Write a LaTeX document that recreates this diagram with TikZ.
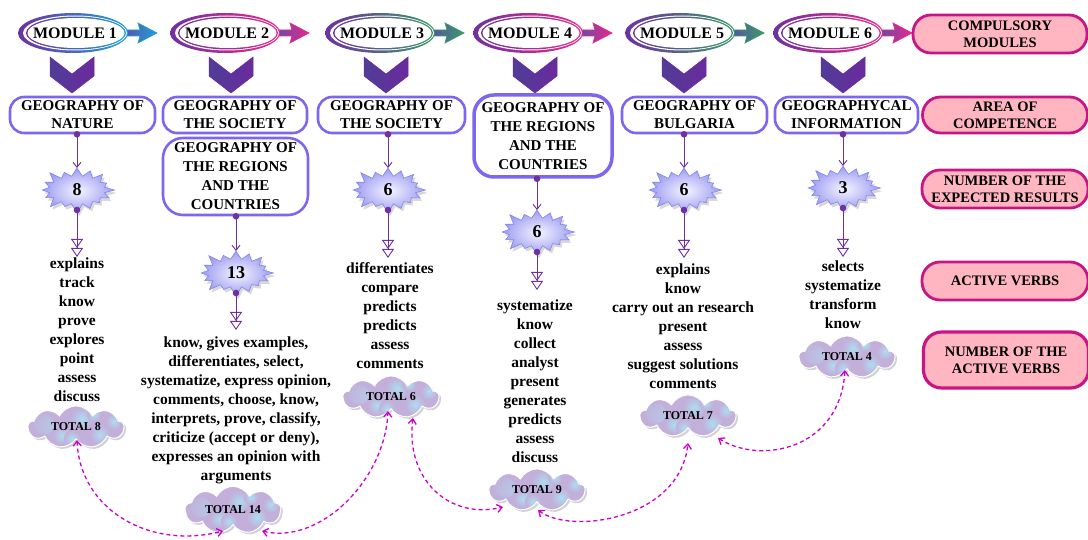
\documentclass[tikz,border=0pt]{standalone}
\usepackage{fontspec}
\setmainfont{Liberation Serif}
\usetikzlibrary{shapes.symbols,arrows.meta,shadows,calc}

\definecolor{modpurple}{HTML}{7030A0}
\definecolor{arrowbody}{HTML}{5B4FA8}
\definecolor{acblue}{HTML}{1FA0D8}
\definecolor{acpink}{HTML}{E8288C}
\definecolor{acgreen}{HTML}{3A9A6A}
\definecolor{areaedge}{HTML}{7B68EE}
\definecolor{legfill}{HTML}{FFB6C1}
\definecolor{legedge}{HTML}{C71585}
\definecolor{linkpurple}{HTML}{7030A0}
\definecolor{dashmag}{HTML}{CC00CC}
\definecolor{cloudlilac}{HTML}{C2B0DA}
\definecolor{cloudspot}{HTML}{AEDCF0}
\definecolor{starcore}{HTML}{F4F4FF}
\definecolor{starrim}{HTML}{9C9CF2}
\definecolor{staredge}{HTML}{8484EC}
\definecolor{chevL}{HTML}{4F3D96}
\definecolor{chevM}{HTML}{9088BE}
\definecolor{chevR}{HTML}{6B2A9E}

\tikzset{
  modtext/.style={font=\bfseries\fontsize{16}{16}\selectfont, inner sep=0pt},
  areabox/.style={draw=areaedge, line width=2.6pt, fill=white, rounded corners=14pt,
    align=center, inner sep=0pt, font=\bfseries\fontsize{15}{18}\selectfont},
  legbox/.style={draw=legedge, line width=2.8pt, fill=legfill, rounded corners=18pt,
    align=center, inner sep=0pt, font=\bfseries\fontsize{14.5}{17}\selectfont},
  burst/.style={starburst, starburst points=16, starburst point height=11pt,
    minimum width=78pt, minimum height=50pt, inner sep=0pt,
    draw=staredge, line width=0.6pt, inner color=starcore, outer color=starrim,
    drop shadow={opacity=0.3, shadow xshift=2pt, shadow yshift=-3pt},
    font=\bfseries\fontsize{18}{18}\selectfont},
  verbs/.style={align=center, inner sep=0pt, anchor=north,
    font=\bfseries\fontsize{15.5}{19}\selectfont},
  total/.style={cloud, cloud puffs=9, cloud puff arc=125, aspect=2.4,
    minimum width=96pt, minimum height=40pt, inner sep=0pt,
    fill=cloudlilac, draw=white, line width=1pt,
    drop shadow={opacity=0.35, shadow xshift=2pt, shadow yshift=-2pt},
    font=\bfseries\fontsize{12}{12}\selectfont,
    path picture={
      \foreach \dx/\dy/\r in {-32/2/10, -14/-9/9, 6/8/11, 24/-8/10, 38/5/8, -4/-12/8, 18/12/7}
        \shade[inner color=cloudspot, outer color=cloudlilac]
          ($(path picture bounding box.center)+(\dx pt,\dy pt)$) circle (\r pt);
    }},
  feed/.style={linkpurple, line width=0.9pt, -{Straight Barb[length=5pt,width=8pt]}},
  fanout/.style={linkpurple, line width=0.9pt,
    -{Triangle[open,length=9pt,width=12pt] Triangle[open,length=9pt,width=12pt]}},
  tally/.style={dashmag, line width=1.3pt, dash pattern=on 4pt off 3pt,
    {Straight Barb[length=5pt,width=8pt]}-{Straight Barb[length=5pt,width=8pt]}},
}

% ring with outgoing arrow, label and the chevron under it
\newcommand\moduleunit[5]{%
  \shadedraw[left color=arrowbody, right color=#3, draw=#3, line width=0.7pt]
    (#2+50,30) -- (#2+67,30) -- (#2+65,23) -- (#2+84,33) -- (#2+65,43) -- (#2+67,36) -- (#2+50,36) -- cycle;
  \shade[left color=modpurple, right color=#3] (#2,33) ellipse (55pt and 20pt);
  \fill[white] (#2+2,33) ellipse (52pt and 17.5pt);
  \shade[left color=modpurple, right color=#3] (#2+3,33) ellipse (50pt and 16.5pt);
  \fill[white] (#2+3,33) ellipse (48.5pt and 15pt);
  \node[modtext] (#1) at (#2+2,33) {#4};
  \shadedraw[left color=chevL, middle color=chevM, right color=chevR, draw=chevR, line width=0.5pt]
    (#5-22,57) -- (#5,74) -- (#5+22,57) -- (#5+22,76) -- (#5,93) -- (#5-22,76) -- cycle;
}

\begin{document}
\begin{tikzpicture}[x=1pt, y=-1pt]
\useasboundingbox (0,0) rectangle (1088,540);
\fill[white] (0,0) rectangle (1088,540);

% compulsory modules
\moduleunit{m1}{73}{acblue}{MODULE 1}{72}
\moduleunit{m2}{225}{acpink}{MODULE 2}{231}
\moduleunit{m3}{380}{acgreen}{MODULE 3}{386}
\moduleunit{m4}{528}{acpink}{MODULE 4}{535}
\moduleunit{m5}{680}{acgreen}{MODULE 5}{684}
\moduleunit{m6}{828}{acpink}{MODULE 6}{843}

% legend
\node[legbox, minimum width=174pt, minimum height=38pt] (l1) at (1000,34) {COMPULSORY\\MODULES};
\node[legbox, minimum width=165pt, minimum height=36pt] (l2) at (1005,115) {AREA OF\\COMPETENCE};
\node[legbox, minimum width=166pt, minimum height=38pt] (l3) at (1005,189) {NUMBER OF THE\\EXPECTED RESULTS};
\node[legbox, minimum width=166pt, minimum height=38pt] (l4) at (1005,281) {ACTIVE VERBS};
\node[legbox, line width=3.2pt, minimum width=165pt, minimum height=56pt] (l5) at (1006,360) {NUMBER OF THE\\ACTIVE VERBS};

% areas of competence
\node[areabox, minimum width=145pt, minimum height=36pt] (a1) at (82.5,115) {GEOGRAPHY OF\\NATURE};
\node[areabox, minimum width=144pt, minimum height=36pt] (a2) at (235,115) {GEOGRAPHY OF\\THE SOCIETY};
\node[areabox, rounded corners=20pt, minimum width=145pt, minimum height=77pt,
      font=\bfseries\fontsize{15}{19}\selectfont] (a2b) at (235.5,176.5) {GEOGRAPHY OF\\THE REGIONS\\AND THE\\COUNTRIES};
\node[areabox, minimum width=147pt, minimum height=36pt] (a3) at (391.5,115) {GEOGRAPHY OF\\THE SOCIETY};
\node[areabox, line width=3.5pt, rounded corners=20pt, minimum width=138pt, minimum height=82pt,
      font=\bfseries\fontsize{15}{19}\selectfont] (a4) at (543,136) {GEOGRAPHY OF\\THE REGIONS\\AND THE\\COUNTRIES};
\node[areabox, minimum width=145pt, minimum height=36pt] (a5) at (694.5,115) {GEOGRAPHY OF\\BULGARIA};
\node[areabox, minimum width=143pt, minimum height=36pt] (a6) at (846.5,115) {GEOGRAPHYCAL\\INFORMATION};

% expected results
\node[burst] (s1) at (77,190) {8};
\node[burst] (s2) at (236,273) {13};
\node[burst] (s3) at (388,190) {6};
\node[burst] (s4) at (537,232) {6};
\node[burst] (s5) at (684,190) {6};
\node[burst] (s6) at (843,188) {3};

% active verbs
\node[verbs] (v1) at (77,258) {explains\\track\\know\\prove\\explores\\point\\assess\\discuss};
\node[verbs] (v2) at (236,337) {know, gives examples,\\differentiates, select,\\systematize, express opinion,\\comments, choose, know,\\interprets, prove, classify,\\criticize (accept or deny),\\expresses an opinion with\\arguments};
\node[verbs] (v3) at (390,262) {differentiates\\compare\\predicts\\predicts\\assess\\comments};
\node[verbs] (v4) at (535,300) {systematize\\know\\collect\\analyst\\present\\generates\\predicts\\assess\\discuss};
\node[verbs] (v5) at (683,264) {explains\\know\\carry out an research\\present\\assess\\suggest solutions\\comments};
\node[verbs] (v6) at (843,261) {selects\\systematize\\transform\\know};

% number of active verbs
\node[total] (c1) at (76,427) {TOTAL 8};
\node[total] (c2) at (233,510) {TOTAL 14};
\node[total] (c3) at (391,397) {TOTAL 6};
\node[total] (c4) at (537,490) {TOTAL 9};
\node[total] (c5) at (688,416) {TOTAL 7};
\node[total] (c6) at (847,357) {TOTAL 4};

% links: area -> result -> verbs
\foreach \a/\s/\t/\ty in {a1/s1/t1/257, a2b/s2/t2/330, a3/s3/t3/258, a4/s4/t4/290, a5/s5/t5/258, a6/s6/t6/257}{
  \coordinate (\t) at (\s |- 0,\ty);
  \fill[linkpurple] (\a.south -| \s) circle (3.3pt);
  \draw[feed, shorten >=22pt] (\a.south -| \s) -- (\s.center);
  \fill[linkpurple] ($(\s)+(0,20)$) circle (3.3pt);
  \draw[fanout] ($(\s)+(0,20)$) -- (\t);
}

% links between the totals
\draw[tally] ($(c1.center)+(1,13)$) .. controls +(3,70) and +(-73,19) .. ($(c2.center)+(-10,21)$);
\draw[tally] ($(c2.center)+(29,21)$) .. controls +(58,14) and +(-3,69) .. ($(c3.center)+(-3,14)$);
\draw[tally] ($(c3.center)+(22,21)$) .. controls +(-8,62) and +(-53,13) .. ($(c4.center)+(-34,17)$);
\draw[tally] ($(c4.center)+(1,20)$) .. controls +(32,25) and +(-8,77) .. ($(c5.center)+(0,27)$);
\draw[tally] ($(c5.center)+(30,22)$) .. controls +(42,27) and +(-5,80) .. ($(c6.center)+(-2,13)$);
\end{tikzpicture}
\end{document}
